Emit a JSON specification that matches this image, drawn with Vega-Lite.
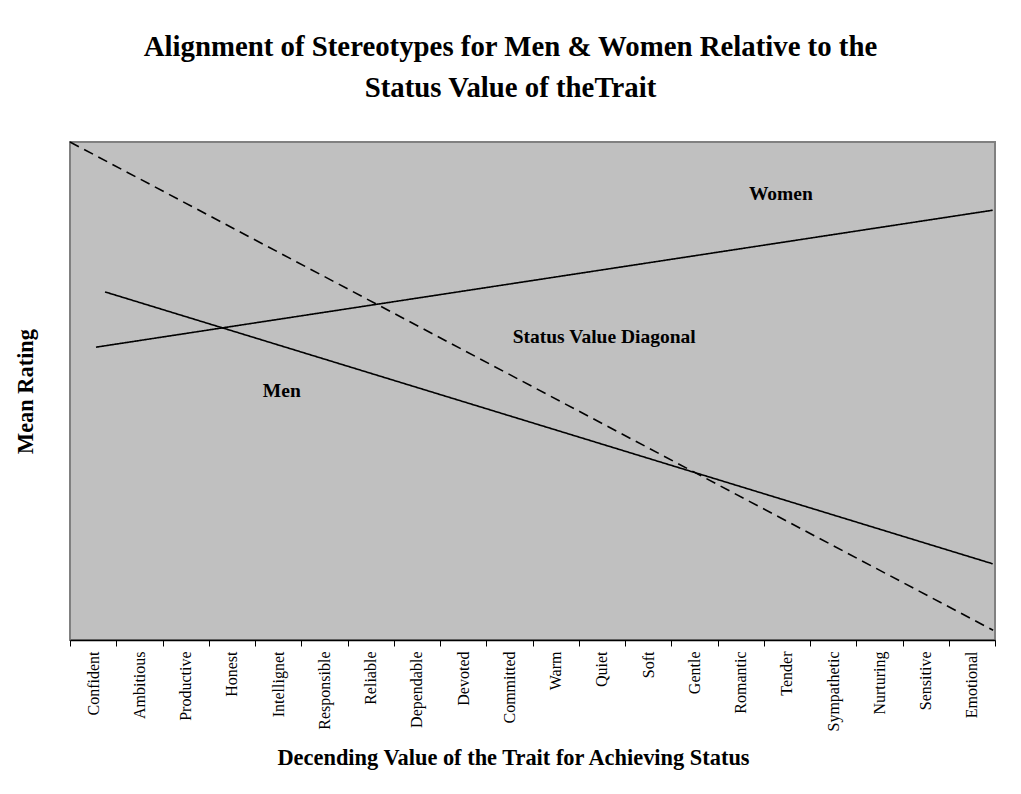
{
  "$schema": "https://vega.github.io/schema/vega-lite/v6.json",
  "autosize": {"type": "none"},
  "width": 925,
  "height": 498,
  "padding": {"left": 70, "top": 142, "right": 26, "bottom": 154},
  "background": "white",
  "title": {
    "text": ["Alignment of Stereotypes for Men & Women Relative to the", "Status Value of theTrait"],
    "font": "Liberation Serif",
    "fontSize": 28.8,
    "fontWeight": "bold",
    "color": "black",
    "anchor": "middle",
    "dx": -22,
    "offset": 36,
    "lineHeight": 41
  },
  "config": {
    "view": {"fill": "#C0C0C0", "stroke": "#808080", "strokeWidth": 2},
    "font": "Liberation Serif"
  },
  "datasets": {
    "traits": [
      {"trait": "Confident"}, {"trait": "Ambitious"}, {"trait": "Productive"}, {"trait": "Honest"},
      {"trait": "Intellignet"}, {"trait": "Responsible"}, {"trait": "Reliable"}, {"trait": "Dependable"},
      {"trait": "Devoted"}, {"trait": "Committed"}, {"trait": "Warm"}, {"trait": "Quiet"},
      {"trait": "Soft"}, {"trait": "Gentle"}, {"trait": "Romantic"}, {"trait": "Tender"},
      {"trait": "Sympathetic"}, {"trait": "Nurturing"}, {"trait": "Sensitive"}, {"trait": "Emotional"}
    ],
    "lines": [
      {"series": "Status Value Diagonal", "pos": 0, "rating": 100},
      {"series": "Status Value Diagonal", "pos": 19.96, "rating": 1.95},
      {"series": "Men", "pos": 0.757, "rating": 69.9},
      {"series": "Men", "pos": 19.95, "rating": 15.3},
      {"series": "Women", "pos": 0.562, "rating": 58.8},
      {"series": "Women", "pos": 19.95, "rating": 86.3}
    ],
    "labels": [
      {"label": "Women", "pos": 15.37, "rating": 89.6},
      {"label": "Status Value Diagonal", "pos": 11.55, "rating": 60.8},
      {"label": "Men", "pos": 4.58, "rating": 50.0}
    ]
  },
  "layer": [
    {
      "data": {"name": "traits"},
      "mark": {"type": "point", "opacity": 0},
      "encoding": {
        "x": {
          "field": "trait",
          "type": "nominal",
          "sort": null,
          "scale": {"type": "band", "paddingInner": 0, "paddingOuter": 0},
          "axis": {
            "title": "Decending Value of the Trait for Achieving Status",
            "titleFont": "Liberation Serif",
            "titleFontSize": 22.4,
            "titleFontWeight": "bold",
            "titleColor": "black",
            "titleX": 443,
            "titleY": 124,
            "titleBaseline": "alphabetic",
            "titleAlign": "center",
            "labelAngle": -90,
            "labelFont": "Liberation Serif",
            "labelFontSize": 16,
            "labelColor": "black",
            "labelPadding": 5,
            "tickBand": "extent",
            "tickSize": 6,
            "tickColor": "black",
            "tickWidth": 1,
            "domainColor": "black",
            "domainWidth": 1.5,
            "grid": false
          }
        }
      }
    },
    {
      "data": {"name": "lines"},
      "mark": {"type": "line", "color": "black", "strokeWidth": 1.6},
      "encoding": {
        "x": {"field": "pos", "type": "quantitative", "scale": {"domain": [0, 20], "nice": false, "zero": false}, "axis": null},
        "y": {
          "field": "rating",
          "type": "quantitative",
          "scale": {"domain": [0, 100], "nice": false},
          "axis": {
            "title": "Mean Rating",
            "titleFont": "Liberation Serif",
            "titleFontSize": 22.4,
            "titleFontWeight": "bold",
            "titleColor": "black",
            "titleAngle": -90,
            "titleX": -38,
            "titleY": 249,
            "titleAlign": "center",
            "titleBaseline": "alphabetic",
            "labels": false,
            "ticks": false,
            "domain": false,
            "grid": false
          }
        },
        "detail": {"field": "series"},
        "strokeDash": {
          "field": "series",
          "type": "nominal",
          "scale": {"domain": ["Men", "Women", "Status Value Diagonal"], "range": [[1, 0], [1, 0], [10, 6]]},
          "legend": null
        }
      }
    },
    {
      "data": {"name": "labels"},
      "mark": {"type": "text", "font": "Liberation Serif", "fontSize": 19.5, "fontWeight": "bold", "color": "black", "align": "center", "baseline": "middle"},
      "encoding": {
        "x": {"field": "pos", "type": "quantitative", "scale": {"domain": [0, 20], "nice": false, "zero": false}, "axis": null},
        "y": {"field": "rating", "type": "quantitative", "scale": {"domain": [0, 100], "nice": false}},
        "text": {"field": "label"}
      }
    }
  ],
  "resolve": {"scale": {"x": "independent"}}
}
